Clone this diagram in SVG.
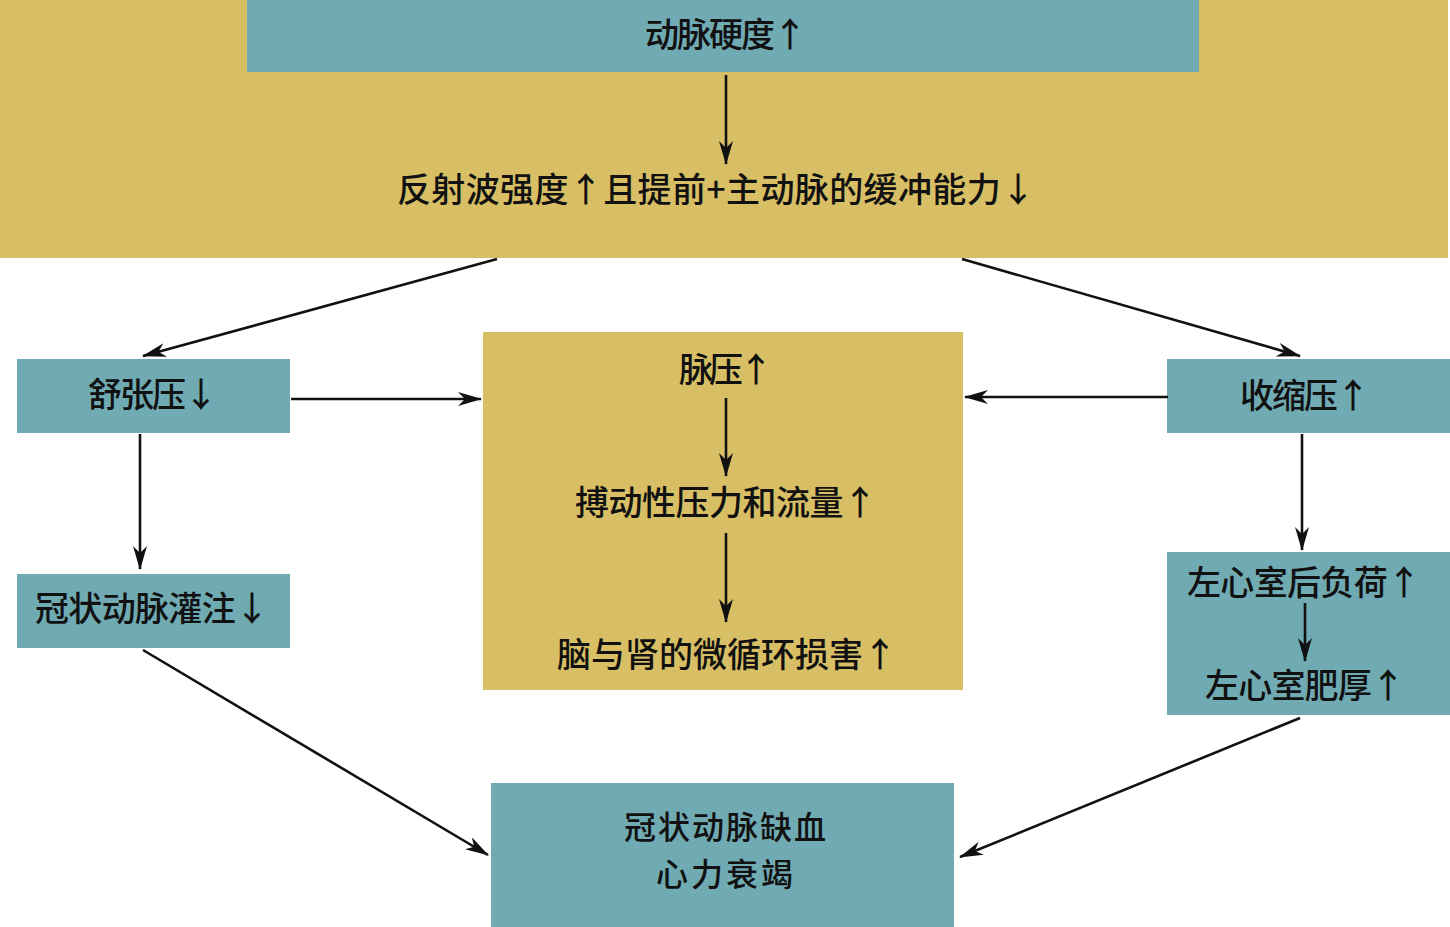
<svg xmlns="http://www.w3.org/2000/svg" width="1450" height="927" viewBox="0 0 1450 927">
<defs>
<marker id="ah" viewBox="0 0 24 14" refX="23" refY="7" markerWidth="24" markerHeight="14" markerUnits="userSpaceOnUse" orient="auto">
<path d="M0,0 L24,7 L0,14 L7,7 Z" fill="#111"/>
</marker>
<style>
.teal{fill:#70aab3}
.gold{fill:#d8bf65}
text{font-family:"Noto Sans CJK SC","Liberation Serif",sans-serif;font-size:34px;font-weight:500;fill:#111;text-anchor:middle}
.s{font-size:32px}
.c{stroke:#111;stroke-width:2.6;fill:none;marker-end:url(#ah)}
</style>
</defs>
<rect width="1450" height="927" fill="#fff"/>
<g id="top-band"><rect class="gold" x="0" y="0" width="1448" height="258"/>
<text x="716" y="202" textLength="638" lengthAdjust="spacing">反射波强度↑且提前+主动脉的缓冲能力↓</text></g>
<g id="n-stiff"><rect class="teal" x="247" y="0" width="952" height="72"/>
<text x="726" y="47" textLength="162" lengthAdjust="spacing">动脉硬度↑</text></g>
<g id="n-center"><rect class="gold" x="483" y="332" width="480" height="358"/>
<text x="726" y="382" textLength="94" lengthAdjust="spacing">脉压↑</text>
<text x="726" y="515" textLength="302" lengthAdjust="spacing">搏动性压力和流量↑</text>
<text x="727" y="667" textLength="340" lengthAdjust="spacing">脑与肾的微循环损害↑</text></g>
<g id="n-dia"><rect class="teal" x="17" y="359" width="273" height="74"/>
<text x="153" y="407" textLength="130" lengthAdjust="spacing">舒张压↓</text></g>
<g id="n-cor"><rect class="teal" x="17" y="574" width="273" height="74"/>
<text x="152" y="621" textLength="234" lengthAdjust="spacing">冠状动脉灌注↓</text></g>
<g id="n-sys"><rect class="teal" x="1167" y="359" width="283" height="74"/>
<text x="1305" y="408" textLength="130" lengthAdjust="spacing">收缩压↑</text></g>
<g id="n-lv"><rect class="teal" x="1167" y="552" width="283" height="163"/>
<text x="1304" y="595" textLength="234" lengthAdjust="spacing">左心室后负荷↑</text>
<text x="1305" y="698" textLength="200" lengthAdjust="spacing">左心室肥厚↑</text></g>
<g id="n-out"><rect class="teal" x="491" y="783" width="463" height="144"/>
<text class="s" x="726" y="839"><tspan x="726" y="839" letter-spacing="2">冠状动脉缺血</tspan><tspan x="726" y="886" letter-spacing="3">心力衰竭</tspan></text></g>
<g id="connectors">
<line class="c" x1="726" y1="75" x2="726" y2="164"/>
<line class="c" x1="497" y1="259" x2="143" y2="356"/>
<line class="c" x1="962" y1="259" x2="1300" y2="356"/>
<line class="c" x1="291" y1="399" x2="481" y2="399"/>
<line class="c" x1="1168" y1="397" x2="965" y2="397"/>
<line class="c" x1="140" y1="434" x2="140" y2="569"/>
<line class="c" x1="1302" y1="434" x2="1302" y2="550"/>
<line class="c" x1="726" y1="398" x2="726" y2="476"/>
<line class="c" x1="726" y1="533" x2="726" y2="622"/>
<line class="c" x1="1305" y1="603" x2="1305" y2="661"/>
<line class="c" x1="143" y1="650" x2="488" y2="855"/>
<line class="c" x1="1300" y1="718" x2="960" y2="857"/>
</g>
</svg>
